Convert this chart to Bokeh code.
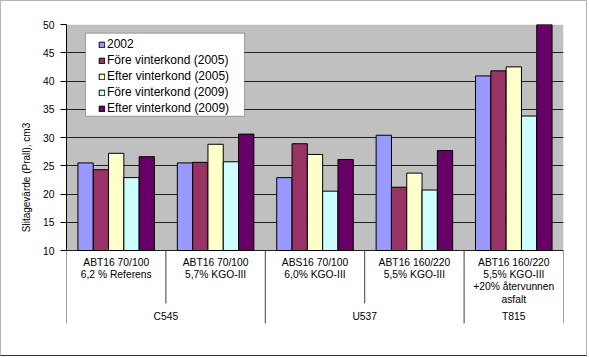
from bokeh.plotting import figure
from bokeh.models import (Range1d, FactorRange, FixedTicker, Legend, LegendItem,
                          BoxAnnotation, ColumnDataSource)
from bokeh.transform import dodge
from bokeh.core.properties import value
from bokeh.embed import file_html
from bokeh.resources import INLINE

# ---------------- data ----------------
categories = [
    "ABT16 70/100\n6,2 % Referens",
    "ABT16 70/100\n5,7% KGO-III",
    "ABS16 70/100\n6,0% KGO-III",
    "ABT16 160/220\n5,5% KGO-III",
    "ABT16 160/220\n5,5% KGO-III\n+20% återvunnen\nasfalt",
]
groups = ["C545", "C545", "U537", "U537", "T815"]
series_names = ["2002", "Före vinterkond (2005)", "Efter vinterkond (2005)",
                "Före vinterkond (2009)", "Efter vinterkond (2009)"]
v2002 = [25.5, 25.5, 22.9, 30.4, 40.9]
fore_2005 = [24.3, 25.6, 28.9, 21.2, 41.8]
efter_2005 = [27.2, 28.8, 27.0, 23.7, 42.5]
fore_2009 = [22.9, 25.7, 20.5, 20.7, 33.8]
efter_2009 = [26.6, 30.6, 26.1, 27.7, 50.0]
series_values = [v2002, fore_2005, efter_2005, fore_2009, efter_2009]
y_ticks = [10, 15, 20, 25, 30, 35, 40, 45, 50]
y_title = "Slitagevärde (Prall), cm3"

colors = ["#9999FF", "#993366", "#FFFFCC", "#CCFFFF", "#660066"]
FONT = "Liberation Sans"

# ---------------- layout ----------------
W, H = 587, 356
BL, BR, BT, BB = 65, 25, 23, 27
frame_h = H - BT - BB
px_per_unit = 226 / 40.0
y_min, y_max = y_ticks[0], y_ticks[-1]
y_bottom = y_max - frame_h / px_per_unit

x_range = FactorRange(factors=categories, range_padding=0, factor_padding=0)
p = figure(width=W, height=H, x_range=x_range, y_range=Range1d(y_bottom, y_max),
           output_backend="svg", toolbar_location=None,
           min_border_left=BL, min_border_right=BR, min_border_top=BT, min_border_bottom=BB)
p.background_fill_color = "white"
p.border_fill_color = "white"
p.outline_line_color = None
p.styles = {"border": "1px solid #b4b4b4", "border-bottom": "1px solid #303030"}

# gray plot area
bg = BoxAnnotation(bottom=y_min, top=y_max, fill_color="#C0C0C0", fill_alpha=1,
                   line_color=None, level="image")
p.add_layout(bg)

# grid
p.xgrid.visible = False
p.ygrid.ticker = FixedTicker(ticks=y_ticks)
p.ygrid.grid_line_color = "#202020"
p.ygrid.grid_line_width = 1

# y axis
ya = p.yaxis[0]
ya.ticker = FixedTicker(ticks=y_ticks)
ya.bounds = (y_min, y_max)
ya.axis_line_color = "black"
ya.major_tick_line_color = "black"
ya.major_tick_out = 6
ya.major_tick_in = 0
ya.minor_tick_line_color = None
ya.major_label_standoff = 6
ya.major_label_text_font = FONT
ya.major_label_text_font_size = "10.3px"
ya.major_label_text_color = "black"
ya.axis_label = y_title
ya.axis_label_text_font = FONT
ya.axis_label_text_font_size = "10px"
ya.axis_label_text_font_style = "normal"
ya.axis_label_text_color = "black"
ya.axis_label_standoff = 8
p.xaxis.visible = False

# bars
src = ColumnDataSource(dict(cat=categories, **{f"s{i}": v for i, v in enumerate(series_values)}))
bw = 0.154
renderers = []
for i, name in enumerate(series_names):
    r = p.vbar(x=dodge("cat", (i - 2) * bw, range=x_range), top=f"s{i}", bottom=y_min,
               width=bw, source=src, fill_color=colors[i], line_color="black", line_width=1)
    renderers.append(r)

# category labels
p.text(x=categories, y=[y_min] * len(categories), text=categories,
       text_font=value(FONT), text_font_size="10.3px", text_color="black",
       text_align="center", text_baseline="top", y_offset=6, text_line_height=1.13)

# group labels + separators
n = len(categories)
group_names = []
group_centers = []
start = 0
for i in range(1, n + 1):
    if i == n or groups[i] != groups[start]:
        group_names.append(groups[start])
        group_centers.append((start + i) / 2.0)
        start = i
p.text(x=group_centers, y=[y_min] * len(group_centers), text=group_names,
       text_font=value(FONT), text_font_size="10.3px", text_color="black",
       text_align="center", text_baseline="middle", y_offset=66)

sep_x, sep_y1 = [], []
for i in range(n + 1):
    long_sep = (i == 0 or i == n or groups[i] != groups[i - 1])
    sep_x.append(i)
    sep_y1.append(y_min - (73 if long_sep else 53) / px_per_unit)
p.segment(x0=sep_x, y0=[y_min] * len(sep_x), x1=sep_x, y1=sep_y1,
          line_color="#404040", line_width=1)

# legend frame
lbox = BoxAnnotation(left=0.191, right=1.791, top=y_max - (33 - 24.3) / px_per_unit,
                     bottom=y_max - (116 - 24.3) / px_per_unit,
                     fill_color="white", fill_alpha=1, line_color="black", line_width=1)
p.add_layout(lbox)

legend = Legend(items=[LegendItem(label=n_, renderers=[r]) for n_, r in zip(series_names, renderers)],
                location=(32, 214), padding=2, spacing=0, margin=0,
                glyph_width=7, glyph_height=7, label_standoff=2, label_height=16,
                label_text_font=FONT, label_text_font_size="12px", label_text_color="black",
                background_fill_alpha=0, border_line_color=None)
p.add_layout(legend)

open("out.html", "w").write(file_html(p, INLINE))
